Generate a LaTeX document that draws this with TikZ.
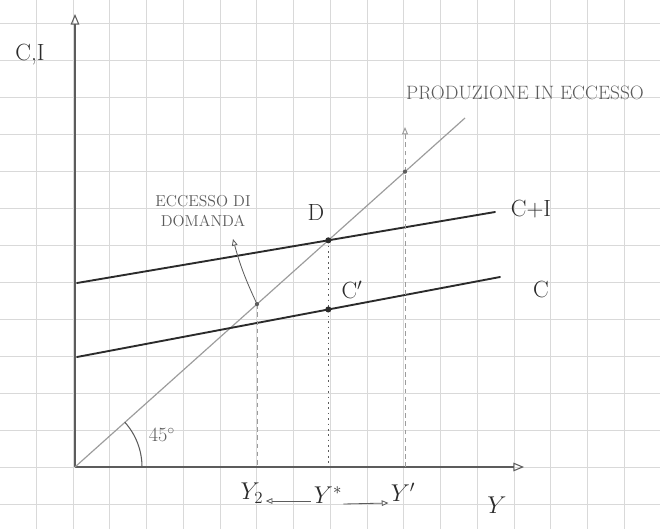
\documentclass[tikz,border=0pt]{standalone}
\usepackage{amsmath,amssymb}
\usetikzlibrary{arrows.meta,positioning,calc,intersections}
\definecolor{paperGrid}{HTML}{D9D9D9}
\definecolor{pencilDark}{HTML}{2B2B2B}
\definecolor{pencilGrey}{HTML}{9C9C9C}
\definecolor{axisGrey}{HTML}{5C5C5C}

\begin{document}
\begin{tikzpicture}[
  x=0.03cm, y=-0.03cm,
  font=\fontsize{14}{16}\selectfont,
  gridline/.style={draw=paperGrid, line width=0.6pt},
  axis/.style={
    draw=axisGrey, line width=0.9pt,
    -{Triangle[open,length=3.2mm,width=2.6mm]}
  },
  demand/.style={draw=pencilDark, line width=1.6pt, line cap=round},
  bisect/.style={draw=pencilGrey, line width=1pt},
  guide/.style={draw=pencilGrey, line width=0.8pt, dash pattern=on 4pt off 3pt},
  guidedot/.style={draw=axisGrey, line width=1.3pt, dash pattern=on 1.4pt off 3.2pt},
  lbl/.style={text=pencilDark, inner sep=1pt, font=\fontsize{20}{22}\selectfont},
  note/.style={text=axisGrey, align=center, inner sep=1pt},
  shiftarrow/.style={
    draw=axisGrey, line width=0.7pt,
    -{Triangle[open,length=2mm,width=1.7mm]}
  },
]
\useasboundingbox (0,0) rectangle (660,529);
\fill[white] (0,0) rectangle (660,529);

% graph paper
\foreach \gx in {0,...,16}
  \draw[gridline] ({36.25+36.75*\gx},0) -- ++(0,529);
\foreach \gy in {0,...,13}
  \draw[gridline] (0,{23.5+37*\gy}) -- ++(660,0);

\coordinate (O) at (75,467);
\coordinate (yTop) at (75,14);
\coordinate (xEnd) at (524,467);

% axes
\draw[axis] (O) -- (yTop);
\draw[axis] (O) -- (xEnd);

% 45 degree line and the two demand lines
\coordinate (bisEnd) at (465,118);
\draw[bisect, name path=bis] (O) -- (bisEnd);

\coordinate (ciL) at (77,283);
\coordinate (ciR) at (495,212);
\draw[demand, name path=ci] (ciL) -- (ciR);

\coordinate (cL) at (77,357);
\coordinate (cR) at (500,277);
\draw[demand, name path=cc] (cL) -- (cR);

\path[name intersections={of=bis and ci, by=D}];
\path[name path=vstar] (D) -- (D |- O);
\path[name intersections={of=vstar and cc, by=Cp}];

\coordinate (Y2pt) at (257,{467-0.895*182});
\coordinate (Ypt) at (405,{467-0.895*330});
\coordinate (YpTop) at (405,127);

% guide lines down to the axis
\draw[guide] (Y2pt) -- (Y2pt |- O);
\draw[guidedot] (D) -- (D |- O);
\draw[guide, -{Triangle[open,length=2.2mm,width=1.8mm]}] (Ypt |- O) -- (YpTop);

\fill[pencilDark] (D) circle[radius=2.6pt];
\fill[pencilDark] (Cp) circle[radius=2.6pt];
\fill[axisGrey] (Y2pt) circle[radius=1.8pt];
\fill[axisGrey] (Ypt) circle[radius=1.8pt];

% angle at the origin
\draw[axisGrey, line width=0.9pt] ($(O)+(67,0)$) arc[start angle=0, end angle=-42, radius=67];
\node[note, font=\fontsize{17}{19}\selectfont] (angLabel) at (162,435) {$45^\circ$};

% labels
\node[lbl] (axisCI) at (30,55) {C,I};
\node[lbl] (ciLabel) at (531,209) {C+I};
\node[lbl] (cLabel) at (541,289) {C};
\node[lbl] (dLabel) at (316,212) {D};
\node[lbl] (cpLabel) at (352,290) {C$'$};
\node[note, font=\fontsize{16.5}{18}\selectfont] (prodLabel) at (525,93) {PRODUZIONE IN ECCESSO};
\node[note, font=\fontsize{13.5}{17}\selectfont] (eccLabel) at (203,211) {ECCESSO DI\\DOMANDA};

\coordinate (eccTip) at (233,239);
\draw[shiftarrow] (Y2pt) to[out=115,in=-75] (eccTip);

% output levels
\node[lbl] (y2Label) at (252,493) {$Y_2$};
\node[lbl] (ystarLabel) at (328,495) {$Y^*$};
\node[lbl] (ypLabel) at (403,492) {$Y'$};
\node[lbl] (yLabel) at (497,505) {$Y$};
\draw[shiftarrow] ($(ystarLabel.west)+(-2,6)$) -- ($(y2Label.east)+(1,8)$);
\draw[shiftarrow] ($(ystarLabel.east)+(0,9)$) -- ($(ypLabel.west)+(-1,11)$);

\end{tikzpicture}
\end{document}
